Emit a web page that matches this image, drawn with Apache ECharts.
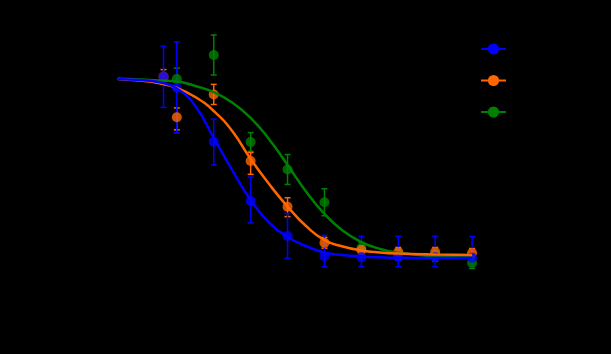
<!DOCTYPE html>
<html>
<head>
<meta charset="utf-8">
<script src="https://cdn.jsdelivr.net/npm/echarts@6/dist/echarts.min.js"></script>
<style>html,body{margin:0;padding:0;background:#000;}#c{width:611px;height:354px;}</style>
</head>
<body>
<div id="c"></div>
<script>
// Names
var seriesNames = ['Compound A', 'Compound B', 'Compound C'];
var seriesColors = ['#0000ff', '#ff6600', '#008000'];

// Fitted curves (log concentration, % response)
var curveX = [-9.8, -9.5, -9.25, -9.0, -8.75, -8.5, -8.25, -8.0, -7.75, -7.5, -7.25, -7.0, -6.75, -6.5, -6.25, -6.0, -5.5, -5.0];
var curveA = [99.2, 98.6, 97.5, 93.9, 84.2, 66.4, 48.6, 31.9, 19.4, 11.4, 6.4, 2.8, 1.4, 0.6, 0.1, -0.2, -0.3, -0.3];
var curveB = [99.2, 98.3, 96.9, 94.2, 89.2, 81.4, 70.3, 54.7, 40.8, 28.3, 17.5, 9.7, 6.1, 3.9, 2.8, 2.2, 1.7, 1.4];
var curveC = [99.3, 98.9, 98.3, 97.8, 95.3, 91.9, 86.1, 77.6, 65.7, 51.4, 36.7, 24.2, 14.8, 8.6, 4.8, 2.6, 0.6, 0.0];

// Measured points
var pointsXA = [-9.18, -9.0, -8.5, -8.0, -7.5, -7.0, -6.5, -6.0, -5.5, -5.0];
var pointsYA = [100.4, 94.3, 64.3, 31.4, 11.9, 0.8, 0.1, 0.1, 0.1, -0.1];
var errUpA   = [17, 25.5, 12.6, 13.3, 12.6, 11.5, 11.7, 11.7, 11.7, 11.7];
var errDownA = [17, 25, 12.9, 12.2, 12.4, 6, 5.2, 5.2, 5.2, 5.2];

var pointsXB = [-9.18, -9.0, -8.5, -8.0, -7.5, -7.0, -6.5, -6.0, -5.5, -5.0];
var pointsYB = [100.4, 77.9, 90.6, 53.6, 28.2, 8.2, 4.2, 3.1, 3.1, 2.5];
var errUpB   = [4, 5.2, 5.6, 4.7, 5.0, 3, 2.5, 2.5, 2.5, 2.5];
var errDownB = [4, 7, 5.6, 7.4, 5.5, 3, 2.5, 2.5, 2.5, 2.5];

var pointsXC = [-9.0, -8.5, -8.0, -7.5, -7.0, -6.5, -6.0, -5.5, -5.0];
var pointsYC = [99.2, 112.5, 64.2, 48.9, 30.7, 5.3, 1.9, 0.8, -3.1];
var errUpC   = [6, 11.1, 5.2, 8.3, 7.5, 3, 3, 3, 3];
var errDownC = [6, 11.1, 5.2, 8.3, 7.5, 3, 3, 3, 3];

var xAxisName = 'log[Compound] (M)';
var yAxisName = '% Response';

function zip(xs, ys) { return xs.map(function (x, i) { return [x, ys[i]]; }); }
function errData(xs, ys, up, dn) {
  return xs.map(function (x, i) { return [x, ys[i] - dn[i], ys[i] + up[i]]; });
}
function errSeries(name, color, data) {
  return {
    type: 'custom', name: name, data: data, silent: true,
    encode: { x: 0, y: [1, 2] },
    renderItem: function (params, api) {
      var x = api.value(0);
      var lo = api.coord([x, api.value(1)]);
      var hi = api.coord([x, api.value(2)]);
      var w = 3;
      var st = { stroke: color, lineWidth: 1.5, fill: null };
      return {
        type: 'group',
        children: [
          { type: 'line', shape: { x1: hi[0], y1: hi[1], x2: lo[0], y2: lo[1] }, style: st },
          { type: 'line', shape: { x1: hi[0] - w, y1: hi[1], x2: hi[0] + w, y2: hi[1] }, style: st },
          { type: 'line', shape: { x1: lo[0] - w, y1: lo[1], x2: lo[0] + w, y2: lo[1] }, style: st }
        ]
      };
    }
  };
}
function curveSeries(name, color, ys) {
  return {
    type: 'line', name: name, data: zip(curveX, ys), smooth: 0.5,
    symbol: 'circle', symbolSize: 10, showSymbol: false,
    itemStyle: { color: color }, lineStyle: { color: color, width: 2.5 }
  };
}
function pointSeries(name, color, xs, ys) {
  return {
    type: 'scatter', name: name, data: zip(xs, ys), symbol: 'circle', symbolSize: 10,
    itemStyle: { color: color }
  };
}

var chart = echarts.init(document.getElementById('c'));
chart.setOption({
  backgroundColor: '#000000',
  animation: false,
  grid: { left: 103, right: 102, top: 41.5, bottom: 60.5 },
  legend: {
    data: seriesNames, orient: 'vertical', left: 475, top: 38,
    itemWidth: 25, itemHeight: 14, itemGap: 19.5,
    textStyle: { color: '#000000', fontSize: 12, fontFamily: 'Liberation Sans' }
  },
  xAxis: {
    type: 'value', min: -10, max: -4.5, interval: 0.5,
    name: xAxisName, nameLocation: 'middle', nameGap: 28,
    nameTextStyle: { color: '#000000', fontSize: 13 },
    axisLine: { lineStyle: { color: '#000000' } },
    axisTick: { lineStyle: { color: '#000000' } },
    axisLabel: { color: '#000000' },
    splitLine: { show: false }
  },
  yAxis: {
    type: 'value', min: -20, max: 120, interval: 20,
    name: yAxisName, nameLocation: 'middle', nameGap: 36,
    nameTextStyle: { color: '#000000', fontSize: 13 },
    axisLine: { show: true, lineStyle: { color: '#000000' } },
    axisTick: { show: true, lineStyle: { color: '#000000' } },
    axisLabel: { color: '#000000' },
    splitLine: { show: false }
  },
  series: [
    curveSeries(seriesNames[2], seriesColors[2], curveC),
    errSeries('errC', seriesColors[2], errData(pointsXC, pointsYC, errUpC, errDownC)),
    pointSeries('ptsC', seriesColors[2], pointsXC, pointsYC),
    curveSeries(seriesNames[1], seriesColors[1], curveB),
    errSeries('errB', seriesColors[1], errData(pointsXB, pointsYB, errUpB, errDownB)),
    pointSeries('ptsB', seriesColors[1], pointsXB, pointsYB),
    curveSeries(seriesNames[0], seriesColors[0], curveA),
    errSeries('errA', seriesColors[0], errData(pointsXA, pointsYA, errUpA, errDownA)),
    pointSeries('ptsA', seriesColors[0], pointsXA, pointsYA)
  ]
});
</script>
</body>
</html>
